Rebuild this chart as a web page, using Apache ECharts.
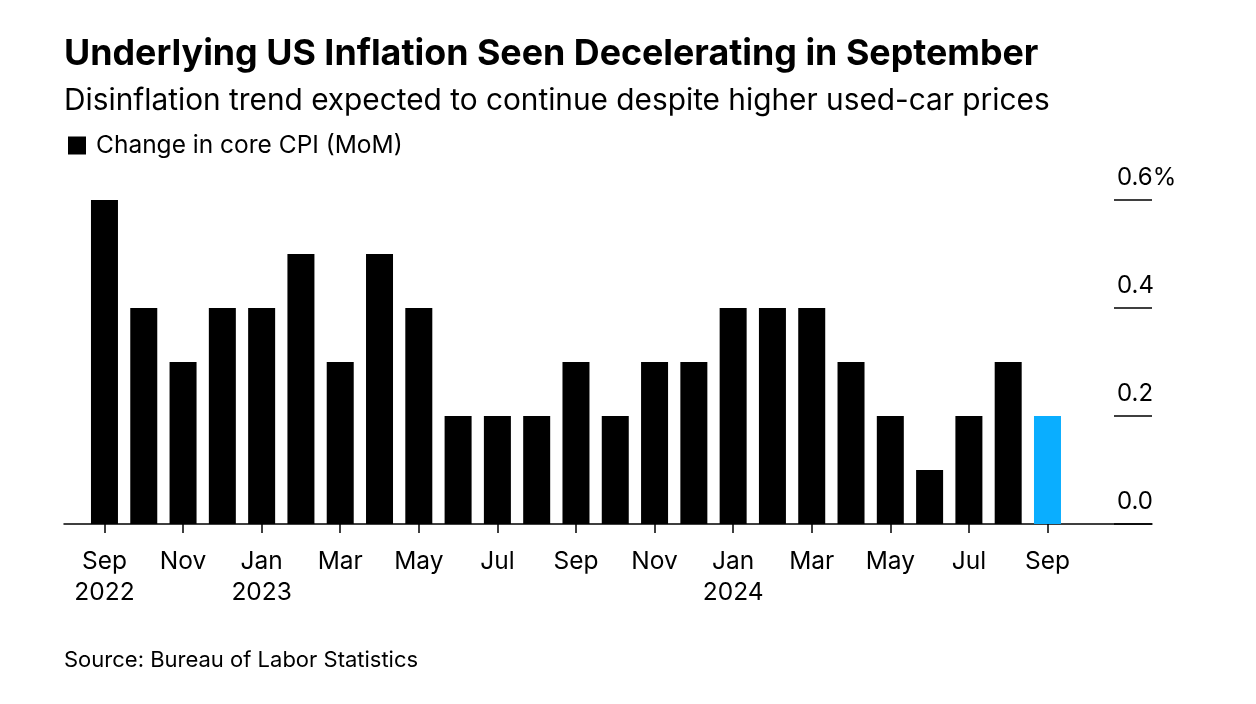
<!DOCTYPE html>
<html>
<head>
<meta charset="utf-8">
<script src="https://cdn.jsdelivr.net/npm/echarts@6/dist/echarts.min.js"></script>
<style>
html,body{margin:0;padding:0;background:#fff;}
#chart{width:1256px;height:704px;}
</style>
</head>
<body>
<div id="chart"></div>
<script>
// Data
var months = ['Sep 2022','Oct 2022','Nov 2022','Dec 2022','Jan 2023','Feb 2023','Mar 2023','Apr 2023','May 2023','Jun 2023','Jul 2023','Aug 2023','Sep 2023','Oct 2023','Nov 2023','Dec 2023','Jan 2024','Feb 2024','Mar 2024','Apr 2024','May 2024','Jun 2024','Jul 2024','Aug 2024','Sep 2024'];
var coreCpi = [0.6,0.4,0.3,0.4,0.4,0.5,0.3,0.5,0.4,0.2,0.2,0.2,0.3,0.2,0.3,0.3,0.4,0.4,0.4,0.3,0.2,0.1,0.2,0.3,0.2];
var tickIndex = [0,2,4,6,8,10,12,14,16,18,20,22,24];
var tickLabels = ['Sep\n2022','Nov','Jan\n2023','Mar','May','Jul','Sep','Nov','Jan\n2024','Mar','May','Jul','Sep'];
var yTicks = [0,0.2,0.4,0.6];
var yTickLabels = ['0.0','0.2','0.4','0.6%'];
var forecastIndex = 24;

var FONT = 'Inter, "Liberation Sans", Arial, sans-serif';
var chart = echarts.init(document.getElementById('chart'));

var seriesData = coreCpi.map(function(v,i){
  var item = {value:[i,v], name: months[i]};
  if(i===forecastIndex){ item.itemStyle = {color:'#0aaeff'}; }
  return item;
});

chart.setOption({
  animation:false,
  backgroundColor:'#ffffff',
  textStyle:{fontFamily:FONT, color:'#000'},
  title:[
    {text:'Underlying US Inflation Seen Decelerating in September', left:64, top:36,
     textStyle:{fontFamily:FONT, fontSize:35.8, fontWeight:'bold', color:'#000'}, padding:0},
    {text:'Disinflation trend expected to continue despite higher used-car prices', left:64, top:86,
     textStyle:{fontFamily:FONT, fontSize:29.8, fontWeight:'normal', color:'#000'}, padding:0},
    {text:'Source: Bureau of Labor Statistics', left:64, top:649,
     textStyle:{fontFamily:FONT, fontSize:22, fontWeight:'normal', color:'#000'}, padding:0}
  ],
  legend:{
    left:68, top:133, padding:0,
    icon:'rect', itemWidth:18, itemHeight:18, itemGap:10,
    textStyle:{fontFamily:FONT, fontSize:24.5, color:'#000', padding:[0,0,0,5]},
    data:[{name:'Change in core CPI (MoM)', itemStyle:{color:'#000'}}]
  },
  grid:{left:64, right:104, top:200, bottom:180, containLabel:false},
  xAxis:{
    type:'value', min:-1.03, max:26.66,
    splitLine:{show:false},
    axisLine:{show:true, onZero:false, lineStyle:{color:'#000', width:1.5}},
    axisTick:{show:true, length:9, customValues:tickIndex, lineStyle:{color:'#000', width:1.5}},
    axisLabel:{show:true, customValues:tickIndex, margin:22, fontSize:24.5, lineHeight:31, color:'#000', fontFamily:FONT,
      formatter:function(v){ var k = tickIndex.indexOf(Math.round(v)); return k>=0 ? tickLabels[k] : ''; }}
  },
  yAxis:{
    type:'value', position:'right', min:0, max:0.6, interval:0.2,
    splitLine:{show:false},
    axisLine:{show:false, onZero:false},
    axisTick:{show:true, inside:true, length:38, customValues:yTicks, lineStyle:{color:'#000', width:1.5}},
    axisLabel:{show:true, customValues:yTicks, inside:false, margin:-35, align:'left', verticalAlign:'bottom',
      padding:[0,0,10,0], fontSize:24, color:'#000', fontFamily:FONT,
      formatter:function(v){ var k = yTicks.indexOf(Math.round(v*10)/10); return k>=0 ? yTickLabels[k] : ''; }}
  },
  series:[{
    name:'Change in core CPI (MoM)', type:'bar', barWidth:27,
    itemStyle:{color:'#000'},
    data:seriesData
  }]
});
</script>
</body>
</html>
